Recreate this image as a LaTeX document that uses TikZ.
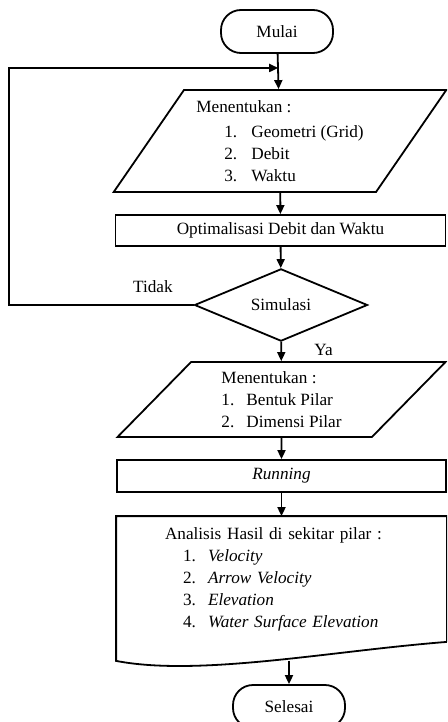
\documentclass[tikz,border=0pt]{standalone}
\usepackage{fontspec}
\setmainfont{Liberation Serif}
\usetikzlibrary{shapes.geometric, arrows.meta, positioning, calc}

\begin{document}
\begin{tikzpicture}[
    x=1pt, y=-1pt,
    font=\fontsize{17.2}{22}\selectfont,
    line width=1.8pt,
    terminal/.style={rectangle, draw, rounded corners=20pt, minimum width=112pt, minimum height=43pt},
    process/.style={rectangle, draw, minimum width=330pt, inner sep=0pt},
    io/.style={trapezium, draw, trapezium stretches=true, align=left, inner sep=0pt},
    decision/.style={diamond, draw, minimum width=173pt, minimum height=66pt, inner sep=0pt},
    arrow/.style={->, >={Triangle[length=9pt, width=8pt]}}
]
\useasboundingbox (0,0) rectangle (447,722);
\clip (0,0) rectangle (447,722);

% Nodes
\node (mulai) [terminal] at (277,31.5) {Mulai};
\node (input1) [io, trapezium left angle=53, trapezium right angle=127, minimum width=333pt, minimum height=102pt] at (280,141)
    {Menentukan :\\[3pt]
     \hspace*{28pt}\makebox[27pt][l]{1.}Geometri (Grid)\\
     \hspace*{28pt}\makebox[27pt][l]{2.}Debit\\
     \hspace*{28pt}\makebox[27pt][l]{3.}Waktu};
\node (opt) [process, minimum height=31pt] at (280.5,230.5) {Optimalisasi Debit dan Waktu};
\node (sim) [decision] at (281,305) {Simulasi};
\node (input2) [io, trapezium left angle=49, trapezium right angle=131, minimum width=329pt, minimum height=75pt] at (281.5,399.5)
    {Menentukan :\\
     \makebox[25pt][l]{1.}Bentuk Pilar\\
     \makebox[25pt][l]{2.}Dimensi Pilar};
\node (run) [process, minimum width=329pt, minimum height=32pt] at (281.5,476) {\textit{Running}};
\node (hasil) [rectangle, minimum height=124pt, text width=233pt, inner xsep=48pt, align=left] at (281.5,579)
    {Analisis Hasil di sekitar pilar :\\
     \hspace*{18pt}\makebox[25pt][l]{1.}\textit{Velocity}\\
     \hspace*{18pt}\makebox[25pt][l]{2.}\textit{Arrow Velocity}\\
     \hspace*{18pt}\makebox[25pt][l]{3.}\textit{Elevation}\\
     \hspace*{18pt}\makebox[25pt][l]{4.}\textit{Water Surface Elevation}};
\node (selesai) [terminal] at (289,706.5) {Selesai};

% Document outline
\draw (hasil.south east) -- (hasil.north east) -- (hasil.north west)
    -- ($(hasil.south west)+(0,19)$) coordinate (wl)
    .. controls +(83,16) and +(-116,9) .. (hasil.south east);

% Arrows
\coordinate (join) at ($(mulai.south)!0.4!(input1.north)$);
\draw [arrow] (mulai) -- (input1);
\draw [arrow] (input1) -- (opt);
\draw [arrow] (opt) -- (sim);
\draw [arrow] (sim) -- node[right, pos=0.4, xshift=29pt] {Ya} (input2);
\draw [arrow] (input2) -- (run);
\draw [arrow] (run) -- (hasil);
\draw [arrow] (selesai.north |- wl) -- (selesai);
\draw [arrow] (sim.west) -- node[above, pos=0.22, yshift=8pt] {Tidak} ++(-185,0) |- (join);

\end{tikzpicture}
\end{document}
